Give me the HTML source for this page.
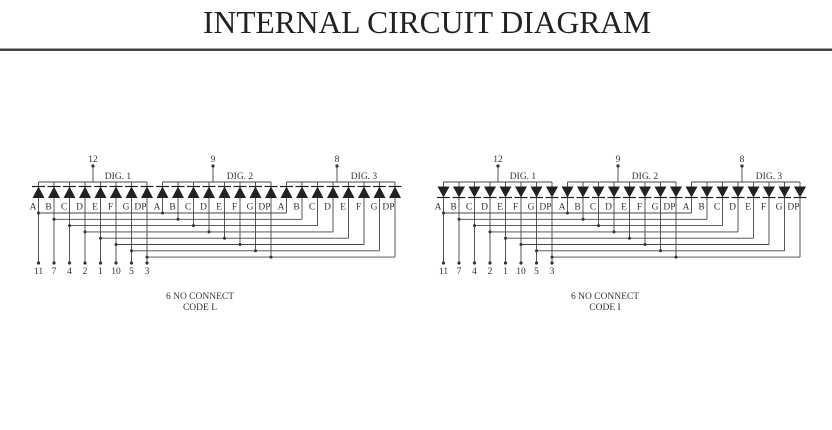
<!DOCTYPE html>
<html><head><meta charset="utf-8"><style>
html,body{margin:0;padding:0;background:#fff;width:832px;height:430px;overflow:hidden}
svg text{font-family:"Liberation Serif",serif;fill:#333}
</style></head><body>
<svg width="832" height="430" viewBox="0 0 832 430" xmlns="http://www.w3.org/2000/svg">
<defs>
<g id="du"><path d="M-6,198 L6,198 L0,186.5 Z" fill="#222"/><line x1="-6.5" y1="186.5" x2="6.5" y2="186.5" stroke="#222" stroke-width="1.2"/></g>
<g id="dd"><path d="M-6,186.5 L6,186.5 L0,197.5 Z" fill="#222"/><line x1="-6.5" y1="197.5" x2="6.5" y2="197.5" stroke="#222" stroke-width="1.2"/></g>
<g id="lines" stroke="#444" stroke-width="0.9" fill="none">
<line x1="38.5" y1="182" x2="147" y2="182"/><line x1="162.5" y1="182" x2="271" y2="182"/><line x1="286.5" y1="182" x2="395" y2="182"/>
<line x1="93" y1="166" x2="93" y2="182"/><line x1="213" y1="166" x2="213" y2="182"/><line x1="337" y1="166" x2="337" y2="182"/>
<line x1="38.5" y1="182" x2="38.5" y2="263"/><line x1="54" y1="182" x2="54" y2="263"/><line x1="69.5" y1="182" x2="69.5" y2="263"/><line x1="85" y1="182" x2="85" y2="263"/><line x1="100.5" y1="182" x2="100.5" y2="263"/><line x1="116" y1="182" x2="116" y2="263"/><line x1="131.5" y1="182" x2="131.5" y2="263"/><line x1="147" y1="182" x2="147" y2="263"/>
<line x1="162.5" y1="182" x2="162.5" y2="213"/><line x1="178" y1="182" x2="178" y2="219.3"/><line x1="193.5" y1="182" x2="193.5" y2="225.6"/><line x1="209" y1="182" x2="209" y2="231.9"/><line x1="224.5" y1="182" x2="224.5" y2="238.2"/><line x1="240" y1="182" x2="240" y2="244.5"/><line x1="255.5" y1="182" x2="255.5" y2="250.8"/><line x1="271" y1="182" x2="271" y2="257.1"/>
<line x1="286.5" y1="182" x2="286.5" y2="213"/><line x1="302" y1="182" x2="302" y2="219.3"/><line x1="317.5" y1="182" x2="317.5" y2="225.6"/><line x1="333" y1="182" x2="333" y2="231.9"/><line x1="348.5" y1="182" x2="348.5" y2="238.2"/><line x1="364" y1="182" x2="364" y2="244.5"/><line x1="379.5" y1="182" x2="379.5" y2="250.8"/><line x1="395" y1="182" x2="395" y2="257.1"/>
<line x1="38.5" y1="213" x2="286.5" y2="213"/><line x1="54" y1="219.3" x2="302" y2="219.3"/><line x1="69.5" y1="225.6" x2="317.5" y2="225.6"/><line x1="85" y1="231.9" x2="333" y2="231.9"/><line x1="100.5" y1="238.2" x2="348.5" y2="238.2"/><line x1="116" y1="244.5" x2="364" y2="244.5"/><line x1="131.5" y1="250.8" x2="379.5" y2="250.8"/><line x1="147" y1="257.1" x2="395" y2="257.1"/>
</g>
<g id="dots" fill="#333">
<circle cx="93" cy="166" r="1.6"/><circle cx="213" cy="166" r="1.6"/><circle cx="337" cy="166" r="1.6"/>
<circle cx="38.5" cy="263" r="1.6"/><circle cx="54" cy="263" r="1.6"/><circle cx="69.5" cy="263" r="1.6"/><circle cx="85" cy="263" r="1.6"/><circle cx="100.5" cy="263" r="1.6"/><circle cx="116" cy="263" r="1.6"/><circle cx="131.5" cy="263" r="1.6"/><circle cx="147" cy="263" r="1.6"/>
<circle cx="38.5" cy="213" r="1.5"/><circle cx="54" cy="219.3" r="1.5"/><circle cx="69.5" cy="225.6" r="1.5"/><circle cx="85" cy="231.9" r="1.5"/><circle cx="100.5" cy="238.2" r="1.5"/><circle cx="116" cy="244.5" r="1.5"/><circle cx="131.5" cy="250.8" r="1.5"/><circle cx="147" cy="257.1" r="1.5"/>
<circle cx="162.5" cy="213" r="1.5"/><circle cx="178" cy="219.3" r="1.5"/><circle cx="193.5" cy="225.6" r="1.5"/><circle cx="209" cy="231.9" r="1.5"/><circle cx="224.5" cy="238.2" r="1.5"/><circle cx="240" cy="244.5" r="1.5"/><circle cx="255.5" cy="250.8" r="1.5"/><circle cx="271" cy="257.1" r="1.5"/>
</g>
<g id="labels" font-size="9.5" text-anchor="middle">
<text x="93" y="162">12</text><text x="213" y="162">9</text><text x="337" y="162">8</text>
<text x="118" y="179">DIG. 1</text><text x="240" y="179">DIG. 2</text><text x="364" y="179">DIG. 3</text>
<text x="33" y="209.5">A</text><text x="48.5" y="209.5">B</text><text x="64" y="209.5">C</text><text x="79.5" y="209.5">D</text><text x="95" y="209.5">E</text><text x="110.5" y="209.5">F</text><text x="126" y="209.5">G</text><text x="140.5" y="209.5">DP</text>
<text x="157" y="209.5">A</text><text x="172.5" y="209.5">B</text><text x="188" y="209.5">C</text><text x="203.5" y="209.5">D</text><text x="219" y="209.5">E</text><text x="234.5" y="209.5">F</text><text x="250" y="209.5">G</text><text x="264.5" y="209.5">DP</text>
<text x="281" y="209.5">A</text><text x="296.5" y="209.5">B</text><text x="312" y="209.5">C</text><text x="327.5" y="209.5">D</text><text x="343" y="209.5">E</text><text x="358.5" y="209.5">F</text><text x="374" y="209.5">G</text><text x="388.5" y="209.5">DP</text>
<text x="38.5" y="274">11</text><text x="54" y="274">7</text><text x="69.5" y="274">4</text><text x="85" y="274">2</text><text x="100.5" y="274">1</text><text x="116" y="274">10</text><text x="131.5" y="274">5</text><text x="147" y="274">3</text>
<text x="200" y="299">6 NO CONNECT</text>
</g>
</defs>

<text x="427" y="33" font-size="31.5" text-anchor="middle" style="fill:#222">INTERNAL CIRCUIT DIAGRAM</text>
<rect x="0" y="48.5" width="832" height="2.5" fill="#444"/>

<use href="#lines"/><use href="#dots"/><use href="#labels"/>
<g>
<use href="#du" x="38.5"/><use href="#du" x="54"/><use href="#du" x="69.5"/><use href="#du" x="85"/><use href="#du" x="100.5"/><use href="#du" x="116"/><use href="#du" x="131.5"/><use href="#du" x="147"/>
<use href="#du" x="162.5"/><use href="#du" x="178"/><use href="#du" x="193.5"/><use href="#du" x="209"/><use href="#du" x="224.5"/><use href="#du" x="240"/><use href="#du" x="255.5"/><use href="#du" x="271"/>
<use href="#du" x="286.5"/><use href="#du" x="302"/><use href="#du" x="317.5"/><use href="#du" x="333"/><use href="#du" x="348.5"/><use href="#du" x="364"/><use href="#du" x="379.5"/><use href="#du" x="395"/>
</g>
<text x="200" y="310" font-size="9.5" text-anchor="middle">CODE L</text>

<g transform="translate(405,0)">
<use href="#lines"/><use href="#dots"/><use href="#labels"/>
<use href="#dd" x="38.5"/><use href="#dd" x="54"/><use href="#dd" x="69.5"/><use href="#dd" x="85"/><use href="#dd" x="100.5"/><use href="#dd" x="116"/><use href="#dd" x="131.5"/><use href="#dd" x="147"/>
<use href="#dd" x="162.5"/><use href="#dd" x="178"/><use href="#dd" x="193.5"/><use href="#dd" x="209"/><use href="#dd" x="224.5"/><use href="#dd" x="240"/><use href="#dd" x="255.5"/><use href="#dd" x="271"/>
<use href="#dd" x="286.5"/><use href="#dd" x="302"/><use href="#dd" x="317.5"/><use href="#dd" x="333"/><use href="#dd" x="348.5"/><use href="#dd" x="364"/><use href="#dd" x="379.5"/><use href="#dd" x="395"/>
<text x="200" y="310" font-size="9.5" text-anchor="middle">CODE I</text>
</g>
</svg>
</body></html>
